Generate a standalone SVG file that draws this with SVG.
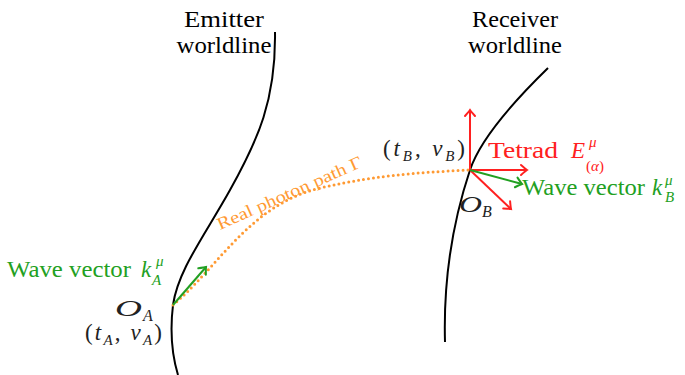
<svg xmlns="http://www.w3.org/2000/svg" width="685" height="375" viewBox="0 0 685 375">
<defs>
<style>
text{font-family:"Liberation Serif",serif;font-size:23px}
.it{font-style:italic}
.wl{fill:none;stroke:#000;stroke-width:2}
.gr{fill:#22a022}
.rd{fill:#ff2020}
.blk{fill:#222}
.ga{stroke:#22a022;stroke-width:2;fill:none}
.ra{stroke:#ff2020;stroke-width:2;fill:none}
.ph{fill:none;stroke:#ff9a33;stroke-width:3;stroke-linecap:round;stroke-dasharray:0 5}
</style>
<marker id="mg" markerUnits="userSpaceOnUse" markerWidth="16" markerHeight="16" refX="0" refY="0" viewBox="-8 -8 16 16" orient="auto" overflow="visible">
<path d="M-6,-5 Q-1.5,-1 0,0 Q-1.5,1 -6,5" fill="none" stroke="#22a022" stroke-width="2" stroke-linecap="round"/>
</marker>
<marker id="mr" markerUnits="userSpaceOnUse" markerWidth="16" markerHeight="16" refX="0" refY="0" viewBox="-8 -8 16 16" orient="auto" overflow="visible">
<path d="M-6,-5 Q-1.5,-1 0,0 Q-1.5,1 -6,5" fill="none" stroke="#ff2020" stroke-width="2" stroke-linecap="round"/>
</marker>
</defs>

<g id="emitter">
<path class="wl" d="M275,32 C276,100 258,140 230,190 C205,235 178,270 173,305 C170,330 172,355 178,375"/>
<text x="224" y="27" text-anchor="middle" textLength="80" lengthAdjust="spacingAndGlyphs">Emitter</text>
<text x="224" y="53" text-anchor="middle" textLength="95" lengthAdjust="spacingAndGlyphs">worldline</text>
</g>

<g id="receiver">
<path class="wl" d="M548,68 C510,105 480,140 470,170 C455,215 443,270 445,342"/>
<text x="515" y="27" text-anchor="middle" textLength="86" lengthAdjust="spacingAndGlyphs">Receiver</text>
<text x="515" y="53" text-anchor="middle" textLength="94" lengthAdjust="spacingAndGlyphs">worldline</text>
</g>

<g id="connectors">
<path id="photon" class="ph" d="M173,305 C220,265 250,205 320,188 C380,174 430,172 470,170"/>
<line class="ga" x1="173" y1="305" x2="206" y2="267" marker-end="url(#mg)"/>
<line class="ra" x1="470" y1="170" x2="470" y2="110" marker-end="url(#mr)"/>
<line class="ra" x1="470" y1="170" x2="527" y2="170" marker-end="url(#mr)"/>
<line class="ra" x1="470" y1="170" x2="511" y2="209" marker-end="url(#mr)"/>
<line class="ga" x1="470" y1="170" x2="522" y2="184" marker-end="url(#mg)"/>
</g>

<g id="photon-label">
<text x="220" y="230" transform="rotate(-24 220 230)" style="font-size:17px;fill:#ff9a33" textLength="157" lengthAdjust="spacingAndGlyphs">Real photon path Γ</text>
</g>

<g id="observer-A">
<text class="gr" x="7" y="277" textLength="124" lengthAdjust="spacingAndGlyphs">Wave vector</text>
<text class="gr it" x="141" y="277">k</text>
<text class="gr it" x="156" y="266" style="font-size:15px">μ</text>
<text class="gr it" x="152" y="285" style="font-size:15px">A</text>
<text class="blk it" x="115" y="316" style="font-size:24px" textLength="27" lengthAdjust="spacingAndGlyphs">O</text>
<text class="blk it" x="143" y="321" style="font-size:16px">A</text>
<text class="blk" x="85" y="340" textLength="77" lengthAdjust="spacing">(<tspan class="it">t</tspan><tspan class="it" dy="5" style="font-size:15px">A</tspan><tspan dy="-5">, </tspan><tspan class="it">ν</tspan><tspan class="it" dy="5" style="font-size:15px">A</tspan><tspan dy="-5">)</tspan></text>
</g>

<g id="observer-B">
<text class="blk" x="383" y="156" textLength="82" lengthAdjust="spacing">(<tspan class="it">t</tspan><tspan class="it" dy="5" style="font-size:15px">B</tspan><tspan dy="-5">, </tspan><tspan class="it">ν</tspan><tspan class="it" dy="5" style="font-size:15px">B</tspan><tspan dy="-5">)</tspan></text>
<text class="rd" x="488" y="158" textLength="70" lengthAdjust="spacingAndGlyphs">Tetrad</text>
<text class="rd it" x="571" y="158">E</text>
<text class="rd it" x="589" y="147" style="font-size:15px">μ</text>
<text class="rd" x="586" y="171" style="font-size:15px">(<tspan class="it">α</tspan>)</text>
<text class="gr" x="522" y="195" textLength="123" lengthAdjust="spacingAndGlyphs">Wave vector</text>
<text class="gr it" x="652" y="195">k</text>
<text class="gr it" x="665" y="185" style="font-size:15px">μ</text>
<text class="gr it" x="665" y="202" style="font-size:15px">B</text>
<text class="blk it" x="459" y="212" style="font-size:23px" textLength="23" lengthAdjust="spacingAndGlyphs">O</text>
<text class="blk it" x="482" y="217" style="font-size:16px">B</text>
</g>
</svg>
